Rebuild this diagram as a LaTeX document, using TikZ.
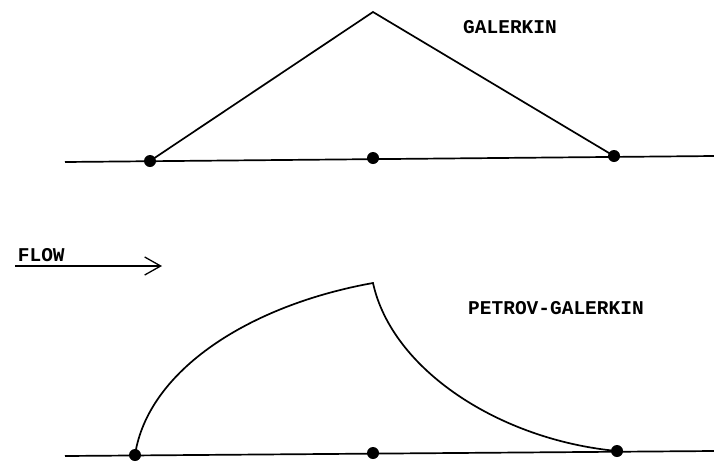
\documentclass[tikz,border=0pt]{standalone}
\usepackage{fontspec}
\setmonofont{Liberation Mono}
\usetikzlibrary{arrows.meta,positioning}

\begin{document}
\begin{tikzpicture}[x=1pt,y=-1pt,>={Straight Barb[length=16pt,width=18pt]},line width=1.7pt,
    knot/.style={circle,fill=black,inner sep=0pt,minimum size=12pt},
    lbl/.style={font=\fontsize{19.5}{21}\ttfamily\bfseries}]
  \useasboundingbox (0,0) rectangle (714,461);
  % Galerkin
  \coordinate (L1) at (65,162);
  \coordinate (R1) at (714,156);
  \node[knot] (A1) at (150,161) {};
  \node[knot] (B1) at (373,158) {};
  \node[knot] (C1) at (614,156) {};
  \coordinate (P1) at (373,12);
  \draw (L1) -- (R1);
  \draw (A1.center) -- (P1) -- (C1.center);
  \node[lbl] (gal) at (510,27) {GALERKIN};
  % flow
  \coordinate (F0) at (15,266);
  \coordinate (F1) at (162,266);
  \draw[->,line width=1.3pt] (F0) -- (F1);
  \node[lbl,anchor=south west,inner sep=1pt] (flow) at (16,264) {FLOW};
  % Petrov-Galerkin
  \coordinate (L2) at (65,456);
  \coordinate (R2) at (714,451);
  \node[knot] (A2) at (135,455) {};
  \node[knot] (B2) at (373,453) {};
  \node[knot] (C2) at (617,451) {};
  \coordinate (P2) at (373,283);
  \draw (L2) -- (R2);
  \draw (A2.center) .. controls (148,370) and (250,305) .. (P2)
        .. controls (392,370) and (500,440) .. (C2.center);
  \node[lbl] (pg) at (556,308) {PETROV-GALERKIN};
\end{tikzpicture}
\end{document}
